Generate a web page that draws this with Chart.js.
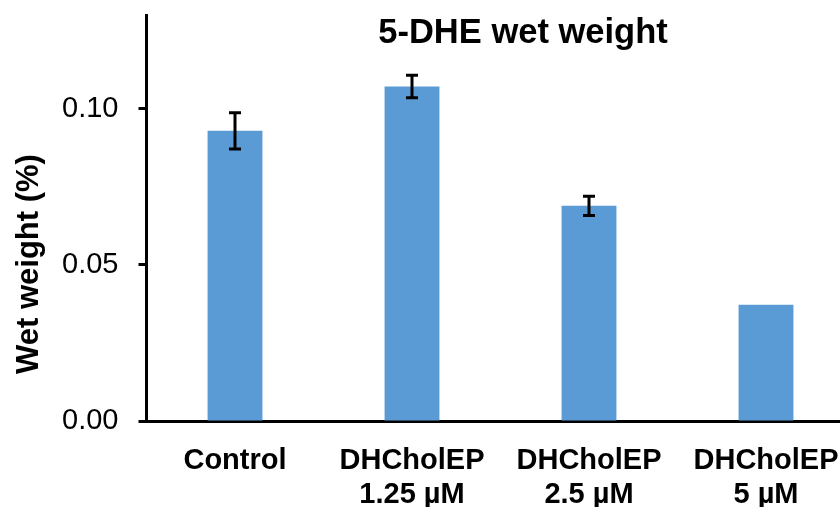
<!DOCTYPE html>
<html>
<head>
<meta charset="utf-8">
<script src="https://cdn.jsdelivr.net/npm/chart.js@4.4.1/dist/chart.umd.min.js"></script>
<style>
  html, body { margin: 0; padding: 0; background: #fff; overflow: hidden; }
  #wrap { width: 840px; height: 507px; overflow: hidden; }
  #box { width: 870px; height: 507px; }
</style>
</head>
<body>
<div id="wrap"><div id="box"><canvas id="mycanvas"></canvas></div></div>
<script>
// datos
const categorias = [['Control'], ['DHCholEP', '1.25 µM'], ['DHCholEP', '2.5 µM'], ['DHCholEP', '5 µM']];
const pesoHumedo = [0.0929, 0.1071, 0.0689, 0.0372];
const errores = [0.0058, 0.0036, 0.0031, 0];
const ticksY = [0, 0.05, 0.10];

const fuente = "'Liberation Sans', Arial, sans-serif";
const azul = '#5B9BD5';

// barras de error + titulos
const extras = {
  id: 'extras',
  afterDatasetsDraw(chart) {
    const ctx = chart.ctx;
    const y = chart.scales.y;
    const meta = chart.getDatasetMeta(0);
    ctx.save();
    ctx.strokeStyle = '#000';
    ctx.lineWidth = 3;
    meta.data.forEach(function (bar, i) {
      if (!errores[i]) return;
      var x = bar.x;
      var yTop = y.getPixelForValue(pesoHumedo[i] + errores[i]);
      var yBot = y.getPixelForValue(pesoHumedo[i] - errores[i]);
      ctx.beginPath();
      ctx.moveTo(x, yTop); ctx.lineTo(x, yBot);
      ctx.moveTo(x - 6, yTop); ctx.lineTo(x + 6, yTop);
      ctx.moveTo(x - 6, yBot); ctx.lineTo(x + 6, yBot);
      ctx.stroke();
    });
    ctx.restore();
  },
  afterDraw(chart) {
    const ctx = chart.ctx;
    ctx.save();
    ctx.fillStyle = '#000';
    ctx.textAlign = 'center';
    ctx.textBaseline = 'alphabetic';
    ctx.font = 'bold 34.5px ' + fuente;
    ctx.fillText('5-DHE wet weight', 523, 43);
    ctx.translate(38, 264);
    ctx.rotate(-Math.PI / 2);
    ctx.font = 'bold 31px ' + fuente;
    ctx.fillText('Wet weight (%)', 0, 0);
    ctx.restore();
  }
};

const config = {
  type: 'bar',
  data: {
    labels: categorias,
    datasets: [{
      data: pesoHumedo,
      backgroundColor: azul,
      borderWidth: 0,
      barPercentage: 0.31,
      categoryPercentage: 1
    }]
  },
  plugins: [extras],
  options: {
    responsive: true,
    maintainAspectRatio: false,
    animation: false,
    layout: { padding: { top: 15, right: 15.5, left: 0, bottom: 0 } },
    plugins: {
      legend: { display: false },
      tooltip: { enabled: false }
    },
    scales: {
      x: {
        afterFit: function (scale) {
          scale.height = 86;
          scale.paddingLeft = 0; scale.paddingRight = 0;
        },
        grid: { display: false },
        border: { display: true, color: '#000', width: 3 },
        ticks: {
          color: '#000',
          padding: 15,
          maxRotation: 0,
          autoSkip: false,
          font: { family: fuente, size: 29, weight: 'bold', lineHeight: 1.17 }
        }
      },
      y: {
        min: 0,
        max: 0.13,
        afterFit: function (scale) {
          scale.width = 146.5;
          scale.paddingTop = 0; scale.paddingBottom = 0;
        },
        afterBuildTicks: function (scale) {
          scale.ticks = ticksY.map(function (v) { return { value: v }; });
        },
        grid: {
          drawOnChartArea: false,
          drawTicks: true,
          tickLength: 8,
          tickWidth: 3,
          tickColor: '#000'
        },
        border: { display: true, color: '#000', width: 3 },
        ticks: {
          color: '#000',
          padding: 20,
          font: { family: fuente, size: 29 },
          callback: function (v) { return v.toFixed(2); }
        }
      }
    }
  }
};

new Chart(document.getElementById('mycanvas'), config);
</script>
</body>
</html>
